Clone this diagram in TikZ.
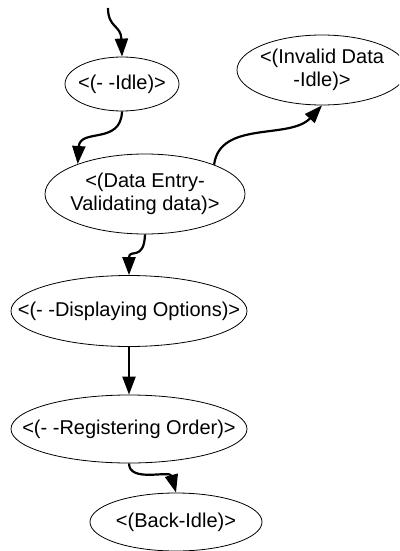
\documentclass[tikz,border=0pt]{standalone}
\usepackage{fontspec}
\setmainfont{Liberation Sans}
\usetikzlibrary{shapes.geometric,arrows.meta}
\begin{document}
\begin{tikzpicture}[x=1pt,y=-1pt,
  st/.style={ellipse,draw,line width=0.8pt,inner sep=0pt},
  txt/.style={inner sep=0pt,align=center,font=\fontsize{20}{23}\selectfont},
  tr/.style={line width=2.2pt,-{Triangle[length=18pt,width=13pt]}}]
\clip (0,0) rectangle (399,551);
\node[st,minimum width=114pt,minimum height=54pt] (idle) at (122,84) {};
\node[txt] (idlet) at (idle) {<(- -Idle)>};
\node[st,minimum width=170pt,minimum height=70pt] (inv) at (322,70) {};
\node[txt] (invt) at (inv) {<(Invalid Data\\-Idle)>};
\node[st,minimum width=200pt,minimum height=80pt] (de) at (145,194) {};
\node[txt] (det) at (de) {<(Data Entry-\\Validating data)>};
\node[st,minimum width=236pt,minimum height=71pt] (disp) at (129,311) {};
\node[txt] (dispt) at (disp) {<(- -Displaying Options)>};
\node[st,minimum width=236pt,minimum height=68pt] (reg) at (129,429) {};
\node[txt] (regt) at (reg) {<(- -Registering Order)>};
\node[st,minimum width=172pt,minimum height=58pt] (back) at (176,522) {};
\node[txt] (backt) at (back) {<(Back-Idle)>};
\coordinate (start) at (108,8);
\draw[tr] (start) .. controls (108,28) and (121,25) .. (idle.north);
\draw[tr] (idle.south) .. controls (121,145) and (80,128) .. (de.156);
\draw[tr] (de.23) .. controls (220,120) and (290,140) .. (inv.south);
\draw[tr] (de.south) .. controls (144,262) and (129,248) .. (disp.north);
\draw[tr] (disp.south) -- (reg.north);
\draw[tr] (reg.south) .. controls (129,483) and (170,470) .. (back.north);
\end{tikzpicture}
\end{document}
